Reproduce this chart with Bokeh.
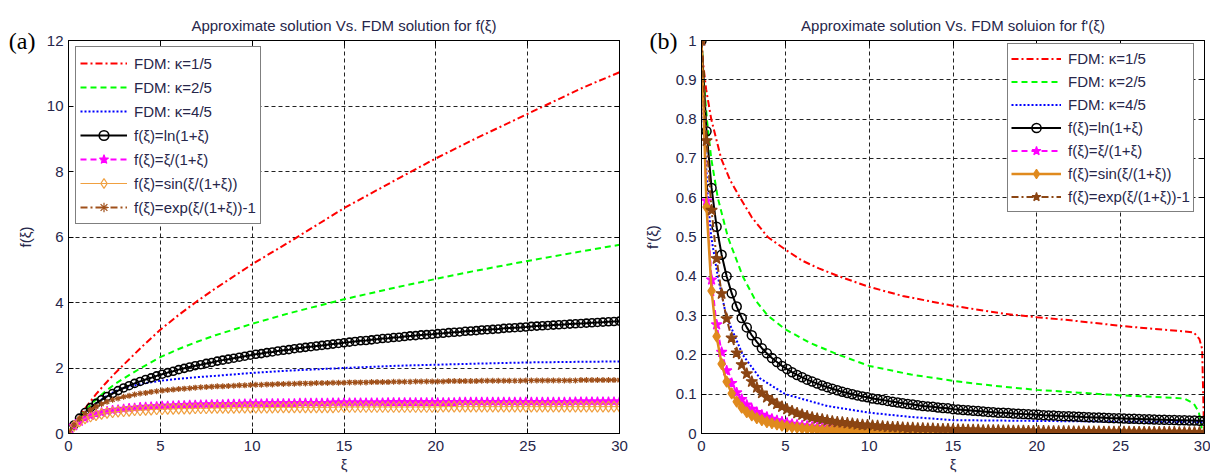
from bokeh.plotting import figure
from bokeh.models import (Legend, LegendItem, FixedTicker, LinearAxis, Range1d,
                          NumeralTickFormatter, CustomJSTickFormatter)
from bokeh.layouts import row
from bokeh.embed import file_html
from bokeh.resources import INLINE

FONT = "Liberation Sans"
TXT = "#26264a"

# sampling grid of the approximate solutions (step 0.3 on [0, 30])
xi = [round(0.3 * k, 1) for k in range(101)]

# ---- panel (a): f(xi) ----
ln_a = [0.00, 0.26, 0.47, 0.64, 0.79, 0.92, 1.03, 1.13, 1.22, 1.31,
        1.39, 1.46, 1.53, 1.59, 1.65, 1.70, 1.76, 1.81, 1.86, 1.90,
        1.95, 1.99, 2.03, 2.07, 2.10, 2.14, 2.17, 2.21, 2.24, 2.27,
        2.30, 2.33, 2.36, 2.39, 2.42, 2.44, 2.47, 2.49, 2.52, 2.54,
        2.56, 2.59, 2.61, 2.63, 2.65, 2.67, 2.69, 2.71, 2.73, 2.75,
        2.77, 2.79, 2.81, 2.83, 2.84, 2.86, 2.88, 2.90, 2.91, 2.93,
        2.94, 2.96, 2.98, 2.99, 3.01, 3.02, 3.03, 3.05, 3.06, 3.08,
        3.09, 3.10, 3.12, 3.13, 3.14, 3.16, 3.17, 3.18, 3.19, 3.21,
        3.22, 3.23, 3.24, 3.25, 3.27, 3.28, 3.29, 3.30, 3.31, 3.32,
        3.33, 3.34, 3.35, 3.36, 3.37, 3.38, 3.39, 3.40, 3.41, 3.42,
        3.43]
rat_a = [0.00, 0.23, 0.37, 0.47, 0.55, 0.60, 0.64, 0.68, 0.71, 0.73,
         0.75, 0.77, 0.78, 0.80, 0.81, 0.82, 0.83, 0.84, 0.84, 0.85,
         0.86, 0.86, 0.87, 0.87, 0.88, 0.88, 0.89, 0.89, 0.89, 0.90,
         0.90, 0.90, 0.91, 0.91, 0.91, 0.91, 0.92, 0.92, 0.92, 0.92,
         0.92, 0.92, 0.93, 0.93, 0.93, 0.93, 0.93, 0.93, 0.94, 0.94,
         0.94, 0.94, 0.94, 0.94, 0.94, 0.94, 0.94, 0.94, 0.95, 0.95,
         0.95, 0.95, 0.95, 0.95, 0.95, 0.95, 0.95, 0.95, 0.95, 0.95,
         0.95, 0.96, 0.96, 0.96, 0.96, 0.96, 0.96, 0.96, 0.96, 0.96,
         0.96, 0.96, 0.96, 0.96, 0.96, 0.96, 0.96, 0.96, 0.96, 0.96,
         0.96, 0.96, 0.97, 0.97, 0.97, 0.97, 0.97, 0.97, 0.97, 0.97,
         0.97]
sin_a = [0.00, 0.23, 0.37, 0.46, 0.52, 0.56, 0.60, 0.63, 0.65, 0.67,
         0.68, 0.69, 0.71, 0.71, 0.72, 0.73, 0.74, 0.74, 0.75, 0.75,
         0.76, 0.76, 0.76, 0.77, 0.77, 0.77, 0.78, 0.78, 0.78, 0.78,
         0.78, 0.79, 0.79, 0.79, 0.79, 0.79, 0.79, 0.79, 0.80, 0.80,
         0.80, 0.80, 0.80, 0.80, 0.80, 0.80, 0.80, 0.80, 0.80, 0.81,
         0.81, 0.81, 0.81, 0.81, 0.81, 0.81, 0.81, 0.81, 0.81, 0.81,
         0.81, 0.81, 0.81, 0.81, 0.81, 0.81, 0.81, 0.81, 0.82, 0.82,
         0.82, 0.82, 0.82, 0.82, 0.82, 0.82, 0.82, 0.82, 0.82, 0.82,
         0.82, 0.82, 0.82, 0.82, 0.82, 0.82, 0.82, 0.82, 0.82, 0.82,
         0.82, 0.82, 0.82, 0.82, 0.82, 0.82, 0.82, 0.82, 0.82, 0.82,
         0.82]
exp_a = [0.00, 0.26, 0.45, 0.61, 0.73, 0.82, 0.90, 0.97, 1.03, 1.07,
         1.12, 1.15, 1.19, 1.22, 1.24, 1.27, 1.29, 1.31, 1.33, 1.34,
         1.36, 1.37, 1.38, 1.40, 1.41, 1.42, 1.43, 1.44, 1.44, 1.45,
         1.46, 1.47, 1.47, 1.48, 1.49, 1.49, 1.50, 1.50, 1.51, 1.51,
         1.52, 1.52, 1.53, 1.53, 1.53, 1.54, 1.54, 1.54, 1.55, 1.55,
         1.55, 1.56, 1.56, 1.56, 1.56, 1.57, 1.57, 1.57, 1.57, 1.58,
         1.58, 1.58, 1.58, 1.59, 1.59, 1.59, 1.59, 1.59, 1.59, 1.60,
         1.60, 1.60, 1.60, 1.60, 1.60, 1.61, 1.61, 1.61, 1.61, 1.61,
         1.61, 1.61, 1.61, 1.62, 1.62, 1.62, 1.62, 1.62, 1.62, 1.62,
         1.62, 1.62, 1.62, 1.63, 1.63, 1.63, 1.63, 1.63, 1.63, 1.63,
         1.63]

fdm_xi_a = [0, 0.3, 0.6, 1, 1.5, 2, 2.5, 3, 4, 5, 6, 7, 8, 10, 12, 15, 18, 20, 22, 25, 28, 30]
red_a = [0, 0.28, 0.53, 0.84, 1.2, 1.52, 1.82, 2.1, 2.65, 3.17, 3.62, 4.04, 4.43, 5.17, 5.84,
         6.88, 7.8, 8.4, 8.96, 9.76, 10.56, 11.03]
green_a = [0, 0.28, 0.5, 0.76, 1.04, 1.28, 1.5, 1.68, 2.02, 2.33, 2.58, 2.8, 3.0, 3.35, 3.67,
           4.1, 4.48, 4.72, 4.95, 5.27, 5.57, 5.76]
blue_a = [0, 0.26, 0.46, 0.68, 0.92, 1.12, 1.28, 1.39, 1.52, 1.61, 1.67, 1.72, 1.76, 1.85, 1.92,
          2.0, 2.07, 2.1, 2.13, 2.17, 2.19, 2.2]

# ---- panel (b): f'(xi) ----
ln_b = [1.000, 0.769, 0.625, 0.526, 0.455, 0.400, 0.357, 0.323, 0.294, 0.270,
        0.250, 0.233, 0.217, 0.204, 0.192, 0.182, 0.172, 0.164, 0.156, 0.149,
        0.143, 0.137, 0.132, 0.127, 0.122, 0.118, 0.114, 0.110, 0.106, 0.103,
        0.100, 0.097, 0.094, 0.092, 0.089, 0.087, 0.085, 0.083, 0.081, 0.079,
        0.077, 0.075, 0.074, 0.072, 0.070, 0.069, 0.068, 0.066, 0.065, 0.064,
        0.062, 0.061, 0.060, 0.059, 0.058, 0.057, 0.056, 0.055, 0.054, 0.053,
        0.053, 0.052, 0.0510, 0.0503, 0.0495, 0.0488, 0.0481, 0.0474, 0.0467, 0.0461,
        0.0455, 0.0448, 0.0442, 0.0437, 0.0431, 0.0426, 0.0420, 0.0415, 0.0410, 0.0405,
        0.0400, 0.0395, 0.0391, 0.0386, 0.0382, 0.0377, 0.0373, 0.0369, 0.0365, 0.0361,
        0.0357, 0.0353, 0.0350, 0.0346, 0.0342, 0.0339, 0.0336, 0.0332, 0.0329, 0.0326,
        0.0323]
rat_b = [1.000, 0.592, 0.391, 0.277, 0.207, 0.160, 0.128, 0.104, 0.087, 0.073,
         0.062, 0.054, 0.047, 0.042, 0.037, 0.033, 0.030, 0.027, 0.024, 0.022,
         0.020, 0.019, 0.017, 0.016, 0.015, 0.014, 0.013, 0.012, 0.011, 0.011,
         0.010, 0.009, 0.009, 0.008, 0.0080, 0.0076, 0.0072, 0.0068, 0.0065, 0.0062,
         0.0059, 0.0057, 0.0054, 0.0052, 0.0050, 0.0048, 0.0046, 0.0044, 0.0042, 0.0041,
         0.0039, 0.0038, 0.0036, 0.0035, 0.0034, 0.0033, 0.0032, 0.0031, 0.0030, 0.0029,
         0.0028, 0.0027, 0.0026, 0.0025, 0.0025, 0.0024, 0.0023, 0.0022, 0.0022, 0.0021,
         0.0021, 0.0020, 0.0020, 0.0019, 0.0019, 0.0018, 0.0018, 0.0017, 0.0017, 0.0016,
         0.0016, 0.0016, 0.0015, 0.0015, 0.0015, 0.0014, 0.0014, 0.0014, 0.0013, 0.0013,
         0.0013, 0.0012, 0.0012, 0.0012, 0.0012, 0.0011, 0.0011, 0.0011, 0.0011, 0.0011,
         0.0010]
sin_b = [1.000, 0.576, 0.363, 0.247, 0.177, 0.132, 0.102, 0.081, 0.066, 0.054,
         0.046, 0.039, 0.034, 0.029, 0.026, 0.023, 0.020, 0.018, 0.016, 0.015,
         0.013, 0.012, 0.011, 0.010, 0.009, 0.009, 0.008, 0.008, 0.0071, 0.0066,
         0.0062, 0.0058, 0.0055, 0.0052, 0.0049, 0.0046, 0.0044, 0.0041, 0.0039, 0.0038,
         0.0036, 0.0034, 0.0032, 0.0031, 0.0030, 0.0029, 0.0027, 0.0026, 0.0025, 0.0024,
         0.0023, 0.0022, 0.0021, 0.0021, 0.0020, 0.0019, 0.0019, 0.0018, 0.0018, 0.0017,
         0.0016, 0.0016, 0.0015, 0.0015, 0.0014, 0.0014, 0.0013, 0.0013, 0.0013, 0.0012,
         0.0012, 0.0012, 0.0012, 0.0011, 0.0011, 0.0010, 0.0010, 0.0010, 0.0010, 0.0009,
         0.0009, 0.0009, 0.0009, 0.0009, 0.0009, 0.0008, 0.0008, 0.0008, 0.0008, 0.0007,
         0.0007, 0.0007, 0.0007, 0.0007, 0.0007, 0.0006, 0.0006, 0.0006, 0.0006, 0.0006,
         0.0006]
exp_b = [1.000, 0.745, 0.568, 0.445, 0.356, 0.292, 0.243, 0.205, 0.175, 0.152,
         0.132, 0.117, 0.103, 0.092, 0.083, 0.075, 0.068, 0.062, 0.057, 0.052,
         0.048, 0.044, 0.041, 0.038, 0.036, 0.033, 0.031, 0.029, 0.028, 0.026,
         0.025, 0.023, 0.022, 0.021, 0.020, 0.019, 0.018, 0.017, 0.016, 0.016,
         0.015, 0.014, 0.014, 0.013, 0.013, 0.012, 0.012, 0.011, 0.011, 0.011,
         0.010, 0.010, 0.010, 0.009, 0.009, 0.009, 0.008, 0.008, 0.008, 0.008,
         0.007, 0.007, 0.0067, 0.0065, 0.0063, 0.0062, 0.0060, 0.0058, 0.0057, 0.0055,
         0.0054, 0.0052, 0.0051, 0.0050, 0.0048, 0.0047, 0.0046, 0.0045, 0.0044, 0.0043,
         0.0042, 0.0041, 0.0040, 0.0039, 0.0038, 0.0037, 0.0036, 0.0036, 0.0035, 0.0034,
         0.0033, 0.0033, 0.0032, 0.0031, 0.0031, 0.0030, 0.0030, 0.0029, 0.0028, 0.0028,
         0.0027]

red_xi_b = [0, 0.1, 0.28, 0.58, 1.17, 1.7, 2.3, 3.0, 3.95, 5, 6, 7, 8.2, 10, 12, 15, 18, 20, 22,
            25, 27, 28.5, 29.36, 29.7, 29.86, 29.96, 30]
red_b = [1.0, 0.94, 0.875, 0.8, 0.7, 0.645, 0.6, 0.55, 0.5, 0.468, 0.44, 0.42, 0.4, 0.373, 0.35,
         0.325, 0.305, 0.296, 0.288, 0.274, 0.266, 0.261, 0.257, 0.24, 0.215, 0.03, 0.0]
green_xi_b = [0, 0.15, 0.32, 0.58, 0.97, 1.57, 2.46, 3.2, 3.95, 5, 6.5, 8.2, 10, 12.5, 15, 17.5,
              20, 22.5, 25, 27, 28.8, 29.36, 29.66, 29.8, 29.87, 30]
green_b = [1.0, 0.89, 0.8, 0.7, 0.6, 0.5, 0.4, 0.34, 0.3, 0.265, 0.23, 0.2, 0.172, 0.15, 0.134,
           0.121, 0.111, 0.104, 0.097, 0.093, 0.089, 0.076, 0.055, 0.022, 0.0, 0.0]
blue_xi_b = [0, 0.12, 0.38, 0.58, 0.97, 1.47, 2.46, 3.5, 5, 7.5, 10, 12.5, 15, 20, 25, 30]
blue_b = [1.0, 0.8, 0.6, 0.5, 0.4, 0.3, 0.2, 0.14, 0.1, 0.07, 0.053, 0.042, 0.034, 0.032, 0.03,
          0.029]

x_ticks = [0, 5, 10, 15, 20, 25, 30]
y_ticks_a = [0, 2, 4, 6, 8, 10, 12]
y_ticks_b = [0, 0.1, 0.2, 0.3, 0.4, 0.5, 0.6, 0.7, 0.8, 0.9, 1.0]

labels = ["FDM: κ=1/5", "FDM: κ=2/5", "FDM: κ=4/5", "f(ξ)=ln(1+ξ)", "f(ξ)=ξ/(1+ξ)",
          "f(ξ)=sin(ξ/(1+ξ))", "f(ξ)=exp(ξ/(1+ξ))-1"]


def style_axis(ax):
    ax.major_tick_in = 5
    ax.major_tick_out = 0
    ax.minor_tick_line_color = None
    ax.axis_line_color = "black"
    ax.major_tick_line_color = "black"
    ax.major_label_text_font = FONT
    ax.major_label_text_font_size = "15px"
    ax.major_label_text_color = TXT
    ax.axis_label_text_font = FONT
    ax.axis_label_text_font_size = "15px"
    ax.axis_label_text_font_style = "normal"
    ax.axis_label_text_color = TXT


def mirror_axis(ticks):
    # tick marks only, on the top and right edges of the box
    ax = LinearAxis(ticker=FixedTicker(ticks=ticks, minor_ticks=[]),
                    formatter=CustomJSTickFormatter(code="return '';"))
    style_axis(ax)
    ax.major_label_text_font_size = "1px"
    ax.major_label_standoff = 0
    return ax


def make_panel(width, left, right, title, ymax, yticks, tag, tag_standoff, ylabel,
               ylabel_standoff, fmt=None):
    p = figure(width=width, height=475, x_range=Range1d(0, 30), y_range=Range1d(0, ymax),
               output_backend="svg", toolbar_location=None,
               min_border_left=left, min_border_right=right,
               min_border_top=40, min_border_bottom=40)
    p.outline_line_color = "black"
    p.outline_line_alpha = 1
    xt = FixedTicker(ticks=x_ticks, minor_ticks=[])
    yt = FixedTicker(ticks=yticks, minor_ticks=[])
    p.xaxis.ticker = xt
    p.yaxis.ticker = yt
    p.xgrid.ticker = xt
    p.ygrid.ticker = yt
    style_axis(p.xaxis[0])
    style_axis(p.yaxis[0])
    p.xaxis[0].axis_label = "ξ"
    p.xaxis[0].major_label_standoff = 7
    p.yaxis[0].major_label_standoff = 5
    p.xaxis[0].axis_label_standoff = 2
    if fmt is not None:
        p.yaxis[0].formatter = fmt
    for g in (p.xgrid[0], p.ygrid[0]):
        g.grid_line_color = "#222222"
        g.grid_line_dash = "4 3"
        g.grid_line_width = 1

    # top edge: mirrored ticks, with the panel title centred above the box
    top = mirror_axis(x_ticks)
    top.axis_label = title
    top.axis_label_standoff = 7
    p.add_layout(top, "above")
    p.add_layout(mirror_axis(yticks), "right")

    # outer left axis: carries the panel tag at the top and the y-axis title
    outer = LinearAxis(ticker=FixedTicker(ticks=[ymax], minor_ticks=[]),
                       formatter=CustomJSTickFormatter(code="return '%s';" % tag))
    outer.axis_line_color = None
    outer.major_tick_line_color = None
    outer.minor_tick_line_color = None
    outer.major_tick_in = 0
    outer.major_tick_out = 0
    outer.major_label_text_font = "Liberation Serif"
    outer.major_label_text_font_size = "24px"
    outer.major_label_text_color = "black"
    outer.major_label_standoff = tag_standoff
    outer.axis_label = ylabel
    outer.axis_label_standoff = ylabel_standoff
    outer.axis_label_text_font = FONT
    outer.axis_label_text_font_size = "15px"
    outer.axis_label_text_font_style = "normal"
    outer.axis_label_text_color = TXT
    p.add_layout(outer, "left")
    return p


def add_series(p, curves, leg_loc, row_h, pad, glyph_w, standoff):
    items = []
    for c in curves:
        rs = [p.line(c["x"], c["y"], line_color=c["color"], line_width=c.get("lw", 2),
                     line_dash=c.get("dash", "solid"))]
        if "marker" in c:
            rs.append(p.scatter(c["x"], c["y"], marker=c["marker"], size=c["size"],
                                line_color=c["color"], line_width=c.get("mlw", 1.2),
                                fill_color=c["color"] if c.get("filled") else None))
        items.append(LegendItem(label=c["label"], renderers=rs))
    leg = Legend(items=items, location=leg_loc, border_line_color="black", border_line_width=1,
                 background_fill_color="white", background_fill_alpha=1,
                 label_text_font=FONT, label_text_font_size="15px", label_text_color=TXT,
                 glyph_width=glyph_w, glyph_height=row_h, label_height=row_h, spacing=0,
                 padding=pad, margin=0, label_standoff=standoff)
    p.add_layout(leg)


pa = make_panel(640, 68, 21, "Approximate solution Vs. FDM solution for f(ξ)", 12, y_ticks_a,
                "(a)", 8, "f(ξ)", -28)
pb = make_panel(570, 60, 6, "Approximate solution Vs. FDM soluion for f'(ξ)", 1, y_ticks_b,
                "(b)", -5, "f'(ξ)", -14, NumeralTickFormatter(format="0.[0]"))

add_series(pa, [
    dict(x=fdm_xi_a, y=red_a, color="red", dash="7 3 2 3", label=labels[0]),
    dict(x=fdm_xi_a, y=green_a, color="#00ff00", dash="6 4", label=labels[1]),
    dict(x=fdm_xi_a, y=blue_a, color="blue", dash="2 2", label=labels[2]),
    dict(x=xi, y=ln_a, color="black", marker="circle", size=8, mlw=1.6, label=labels[3]),
    dict(x=xi, y=rat_a, color="magenta", dash="6 4", marker="star", size=10, filled=True, label=labels[4]),
    dict(x=xi, y=sin_a, color="#f0a040", lw=1, marker="diamond", size=11, label=labels[5]),
    dict(x=xi, y=exp_a, color="#a0501a", dash="7 3 2 3", marker="asterisk", size=6, label=labels[6]),
], (7, 209), 24, 4, 47, 7)

add_series(pb, [
    dict(x=red_xi_b, y=red_b, color="red", dash="7 3 2 3", label=labels[0]),
    dict(x=green_xi_b, y=green_b, color="#00ff00", dash="6 4", label=labels[1]),
    dict(x=blue_xi_b, y=blue_b, color="blue", dash="2 2", label=labels[2]),
    dict(x=xi, y=ln_b, color="black", marker="circle", size=9, mlw=1.5, label=labels[3]),
    dict(x=xi, y=rat_b, color="magenta", dash="6 4", marker="star", size=11, filled=True, label=labels[4]),
    dict(x=xi, y=sin_b, color="#e08a1e", lw=2.5, marker="diamond", size=11, filled=True, label=labels[5]),
    dict(x=xi, y=exp_b, color="#8b4513", dash="7 3 2 3", marker="star", size=12, filled=True, label=labels[6]),
], (306, 221), 23, 3, 50, 7)

layout = row(pa, pb)
open("out.html", "w").write(file_html(layout, INLINE))
